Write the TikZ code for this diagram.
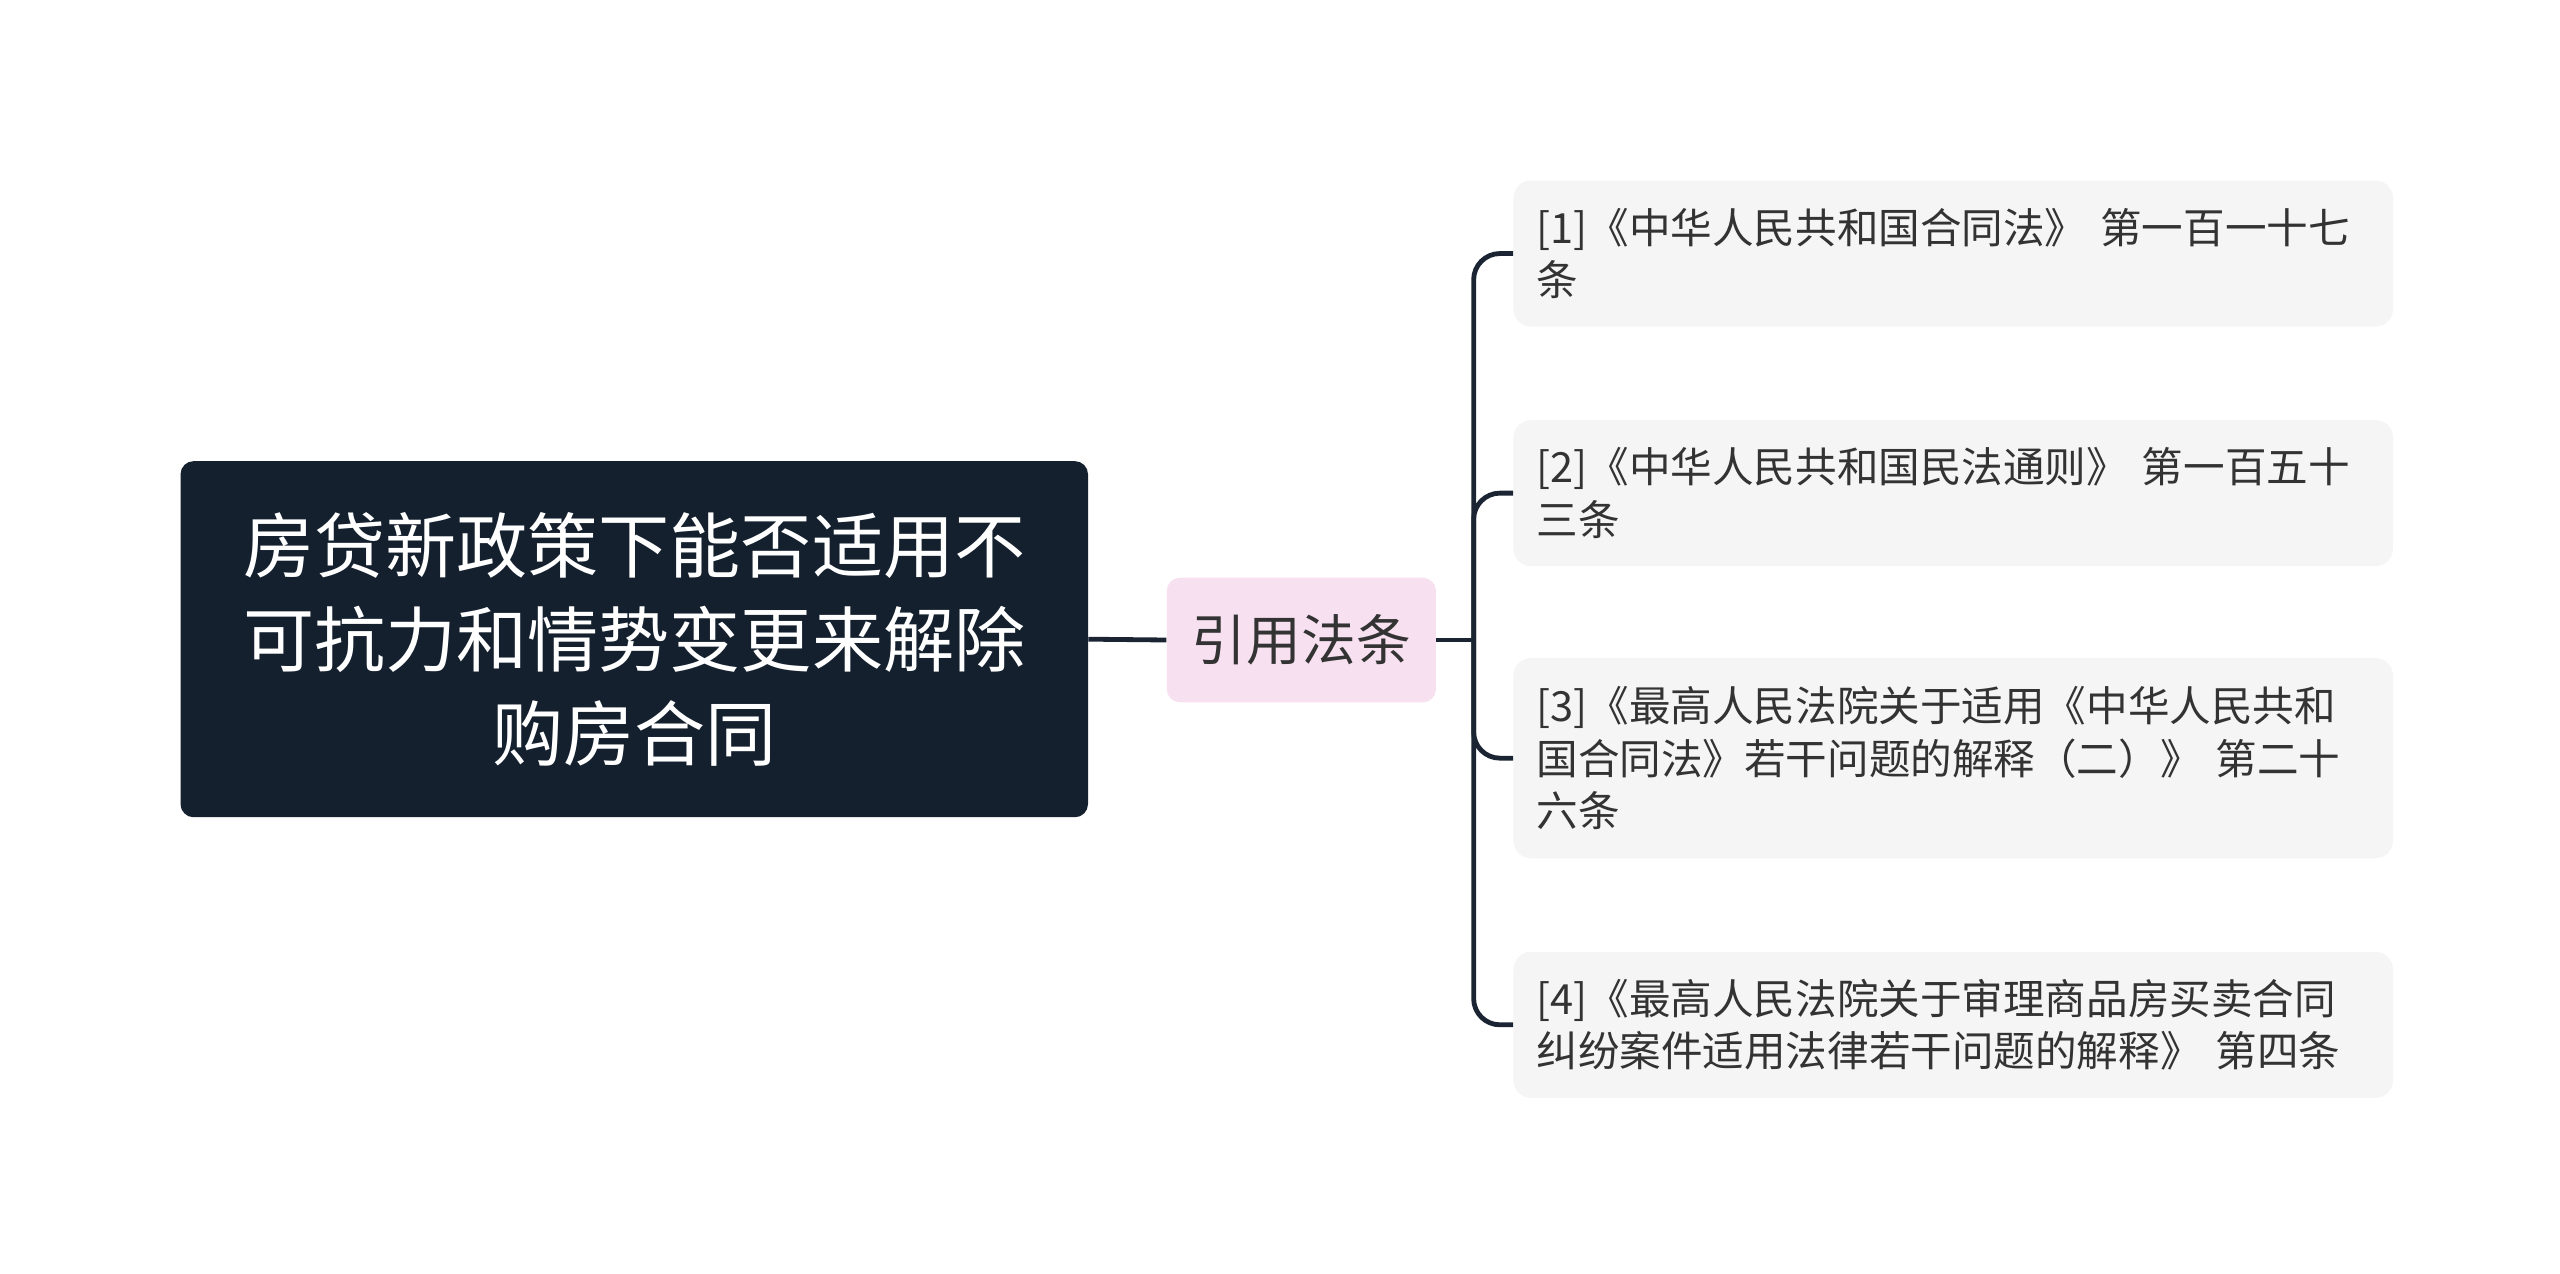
\documentclass[tikz,border=0pt]{standalone}
\usepackage{fontspec}
\setmainfont{Noto Sans CJK SC}
\definecolor{rootc}{HTML}{14202E}
\definecolor{midc}{HTML}{F7E0F0}
\definecolor{leafc}{HTML}{F5F5F5}
\definecolor{linec}{HTML}{1B2433}
\definecolor{txt}{HTML}{333333}
\begin{document}
\begin{tikzpicture}[x=0.75pt,y=-0.75pt,
  conn/.style={draw=linec,line width=2.2pt},
  leaf/.style={fill=leafc,rounded corners=8pt,anchor=west,text width=381pt,align=left,inner xsep=10.5pt,inner ysep=0pt,font=\fontsize{19}{24}\selectfont,text=txt}]
\useasboundingbox (0,0) rectangle (1560,776.3);
\node[fill=rootc,rounded corners=6pt,minimum width=553*0.75pt,minimum height=217*0.75pt,text=white,align=center,font=\fontsize{32.5}{43}\selectfont] (root) at (386.5,389.5) {房贷新政策下能否适用不\\可抗力和情势变更来解除\\购房合同};
\node[fill=midc,rounded corners=6pt,minimum width=164*0.75pt,minimum height=76*0.75pt,text=txt,font=\fontsize{25}{28}\selectfont] (mid) at (793,390) {引用法条};
\coordinate (j) at (898,390);
\node[leaf,minimum height=89*0.75pt] (b1) at (922,154.5) {[1]《中华人民共和国合同法》 第一百一十七\\条};
\node[leaf,minimum height=89*0.75pt] (b2) at (922,300.5) {[2]《中华人民共和国民法通则》 第一百五十\\三条};
\node[leaf,minimum height=122*0.75pt] (b3) at (922,462) {[3]《最高人民法院关于适用《中华人民共和\\国合同法》若干问题的解释（二）》 第二十\\六条};
\node[leaf,minimum height=89*0.75pt] (b4) at (922,624.5) {[4]《最高人民法院关于审理商品房买卖合同\\纠纷案件适用法律若干问题的解释》 第四条};
\draw[conn] (root.east) -- (mid.west);
\draw[conn] (mid.east) -- (j);
\foreach \b in {b1,b2,b3,b4}{\draw[conn,rounded corners=12pt] (j) |- (\b.west);}
\end{tikzpicture}
\end{document}
